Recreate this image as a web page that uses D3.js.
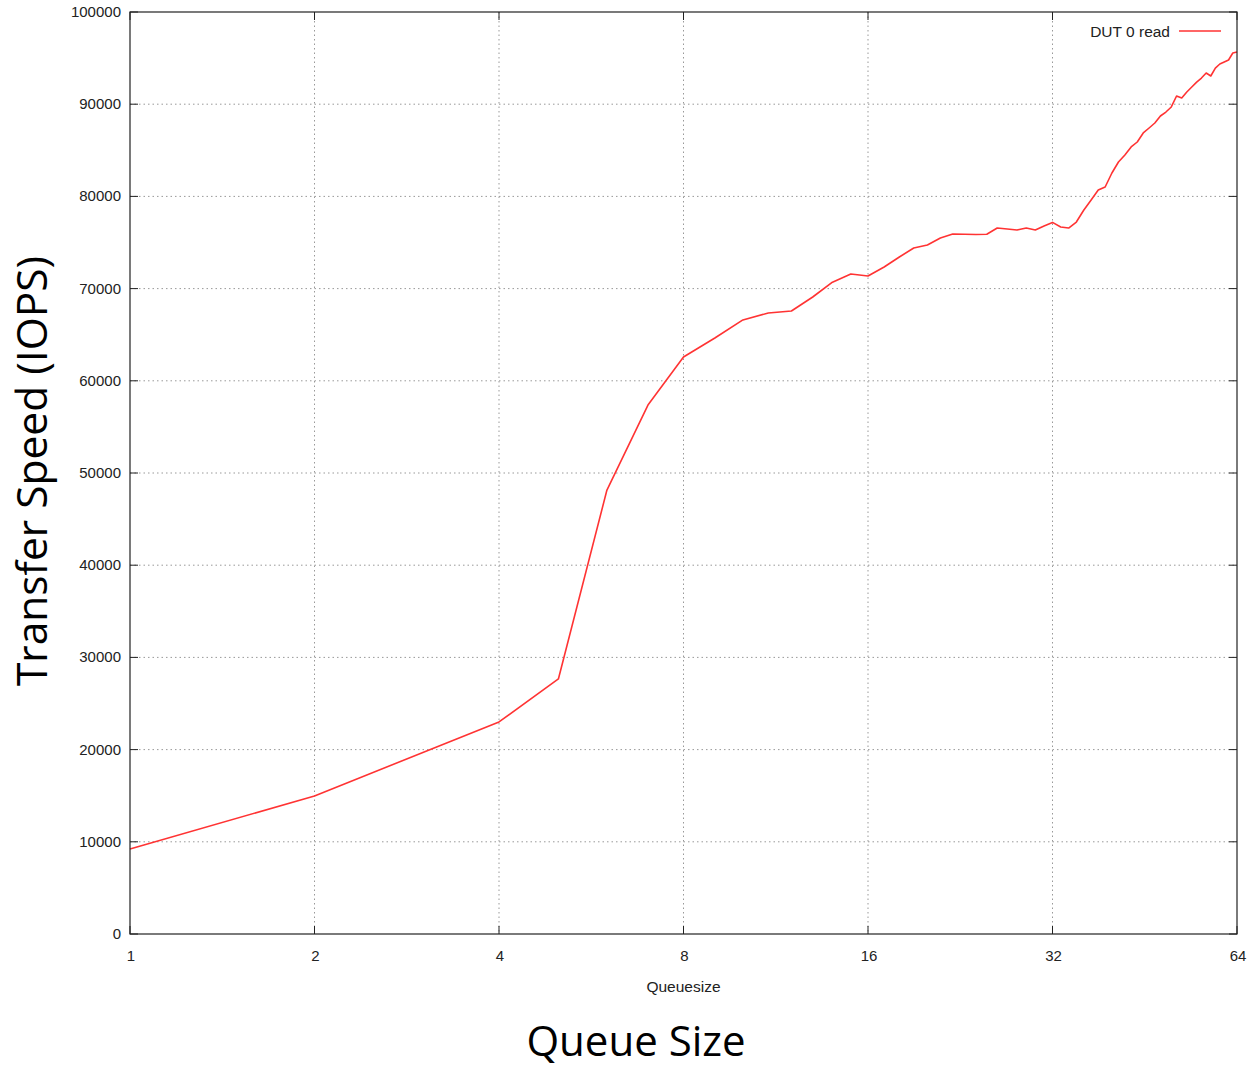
<!DOCTYPE html>
<html>
<head>
<meta charset="utf-8">
<script src="https://cdn.jsdelivr.net/npm/d3@7"></script>
<style>
  body { margin: 0; background: #fff; }
</style>
</head>
<body>
<div id="chart"></div>
<script>
// data
const queueSizes = [1, 2, 4, 5, 6, 7, 8, 9, 10, 11, 12, 13, 14, 15, 16,
    17, 18, 19, 20, 21, 22, 23, 24, 25, 26, 27, 28, 29, 30, 31, 32,
    33, 34, 35, 36, 37, 38, 39, 40, 41, 42, 43, 44, 45, 46, 47, 48,
    49, 50, 51, 52, 53, 54, 55, 56, 57, 58, 59, 60, 61, 62, 63, 64];
const readIops = [9220, 14970, 23000, 27660, 48150, 57370, 62580, 64640, 66600, 67350, 67570, 69090, 70700, 71580, 71370,
    72340, 73430, 74400, 74730, 75490, 75920, 75900, 75870, 75900, 76570, 76460, 76350, 76570, 76350, 76800, 77180,
    76680, 76570, 77220, 78520, 79610, 80690, 81020, 82540, 83730, 84490, 85360, 85900, 86880, 87420, 87960, 88720,
    89150, 89700, 90890, 90670, 91320, 91860, 92400, 92840, 93380, 93060, 93920, 94360, 94580, 94790, 95550, 95660];
const xTicks = [1, 2, 4, 8, 16, 32, 64];
const yTicks = [0, 10000, 20000, 30000, 40000, 50000, 60000, 70000, 80000, 90000, 100000];
const seriesName = 'DUT 0 read';

// measures
const width = 1250;
const height = 1068;
const plot = {left: 130, right: 1237, top: 12, bottom: 934};
const tickLen = 8;

const lineColor = '#ff3333';
const axisColor = '#222222';
const gridColor = '#999999';
const smallFont = '"Liberation Sans", Arial, sans-serif';
const bigFont = '"Open Sans", "Noto Sans", sans-serif';

const svg = d3.select('#chart').append('svg')
    .attr('width', width)
    .attr('height', height);

const x = d3.scaleLog().base(2)
    .domain([1, 64])
    .range([plot.left, plot.right]);

const y = d3.scaleLinear()
    .domain([0, 100000])
    .range([plot.bottom, plot.top]);

drawGrid();
drawTicks();
drawLine();
drawFrame();
drawLabels();
drawLegend();

// dotted grid
function drawGrid() {
    const g = svg.append('g');
    g.selectAll('line.gx')
        .data(xTicks.slice(1, -1))
        .join('line')
        .attr('x1', d => x(d)).attr('x2', d => x(d))
        .attr('y1', plot.top).attr('y2', plot.bottom)
        .attr('stroke', gridColor)
        .attr('stroke-width', 1)
        .attr('stroke-dasharray', '1.5,3');
    g.selectAll('line.gy')
        .data(yTicks.slice(1, -1))
        .join('line')
        .attr('x1', plot.left).attr('x2', plot.right)
        .attr('y1', d => y(d)).attr('y2', d => y(d))
        .attr('stroke', gridColor)
        .attr('stroke-width', 1)
        .attr('stroke-dasharray', '1.5,3');
}

// inward ticks on all four sides, plus tick labels
function drawTicks() {
    const g = svg.append('g').attr('stroke', axisColor).attr('stroke-width', 1);
    xTicks.forEach(t => {
        g.append('line').attr('x1', x(t)).attr('x2', x(t))
            .attr('y1', plot.bottom).attr('y2', plot.bottom - tickLen);
        g.append('line').attr('x1', x(t)).attr('x2', x(t))
            .attr('y1', plot.top).attr('y2', plot.top + tickLen);
    });
    yTicks.forEach(t => {
        g.append('line').attr('x1', plot.left).attr('x2', plot.left + tickLen)
            .attr('y1', y(t)).attr('y2', y(t));
        g.append('line').attr('x1', plot.right).attr('x2', plot.right - tickLen)
            .attr('y1', y(t)).attr('y2', y(t));
    });

    svg.append('g').selectAll('text')
        .data(xTicks)
        .join('text')
        .attr('x', d => x(d) + 1)
        .attr('y', plot.bottom + 27)
        .attr('text-anchor', 'middle')
        .attr('font-family', smallFont)
        .attr('font-size', 15)
        .attr('fill', axisColor)
        .text(d => d);

    svg.append('g').selectAll('text')
        .data(yTicks)
        .join('text')
        .attr('x', plot.left - 9)
        .attr('y', d => y(d) + 5)
        .attr('text-anchor', 'end')
        .attr('font-family', smallFont)
        .attr('font-size', 15)
        .attr('fill', axisColor)
        .text(d => d);
}

function drawLine() {
    const line = d3.line()
        .x((d, i) => x(queueSizes[i]))
        .y(d => y(d));
    svg.append('path')
        .datum(readIops)
        .attr('d', line)
        .attr('fill', 'none')
        .attr('stroke', lineColor)
        .attr('stroke-width', 1.6)
        .attr('stroke-linejoin', 'round');
}

function drawFrame() {
    svg.append('rect')
        .attr('x', plot.left)
        .attr('y', plot.top)
        .attr('width', plot.right - plot.left)
        .attr('height', plot.bottom - plot.top)
        .attr('fill', 'none')
        .attr('stroke', axisColor)
        .attr('stroke-width', 1.2);
}

function drawLabels() {
    svg.append('text')
        .attr('x', (plot.left + plot.right) / 2)
        .attr('y', 992)
        .attr('text-anchor', 'middle')
        .attr('font-family', smallFont)
        .attr('font-size', 15.5)
        .attr('fill', axisColor)
        .text('Queuesize');

    svg.append('text')
        .attr('x', 636)
        .attr('y', 1056)
        .attr('text-anchor', 'middle')
        .attr('font-family', bigFont)
        .attr('font-size', 42)
        .attr('fill', '#000')
        .text('Queue Size');

    svg.append('text')
        .attr('transform', 'translate(47,471) rotate(-90)')
        .attr('text-anchor', 'middle')
        .attr('font-family', bigFont)
        .attr('font-size', 42.5)
        .attr('fill', '#000')
        .text('Transfer Speed (IOPS)');
}

function drawLegend() {
    svg.append('text')
        .attr('x', 1170)
        .attr('y', 37)
        .attr('text-anchor', 'end')
        .attr('font-family', smallFont)
        .attr('font-size', 15.5)
        .attr('fill', axisColor)
        .text(seriesName);
    svg.append('line')
        .attr('x1', 1179).attr('x2', 1221)
        .attr('y1', 31).attr('y2', 31)
        .attr('stroke', lineColor)
        .attr('stroke-width', 1.6);
}
</script>
</body>
</html>
